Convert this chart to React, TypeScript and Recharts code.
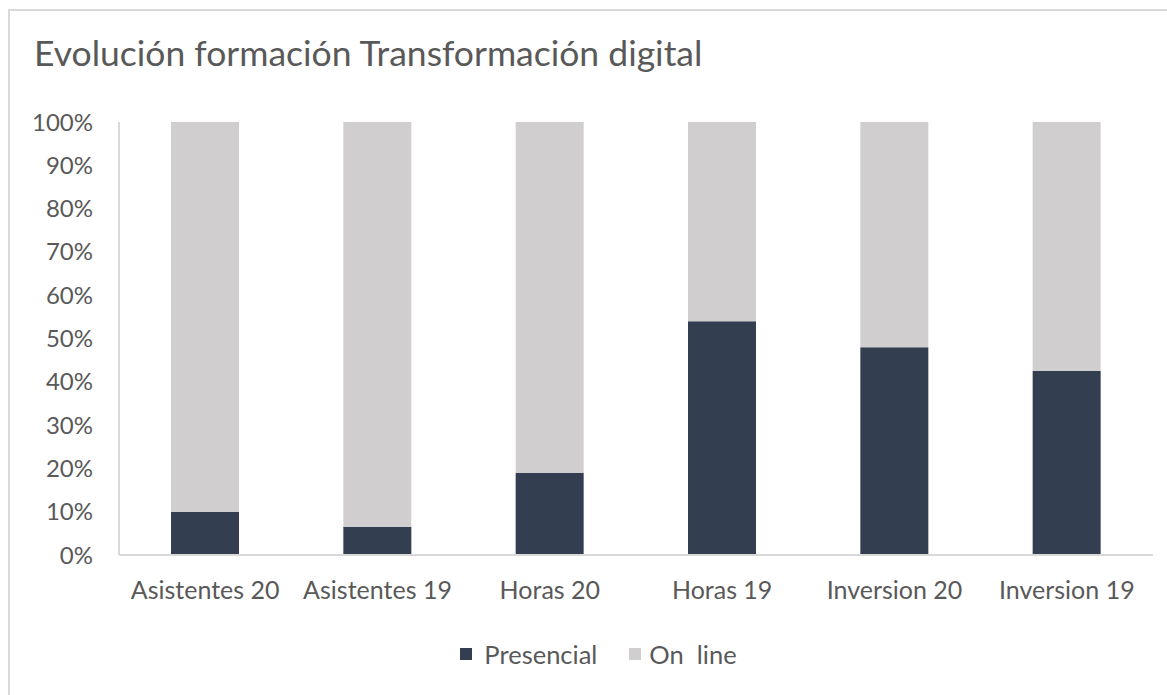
import React from "react";
import { BarChart, Bar, XAxis, YAxis, Legend } from "recharts";

const categories = ["Asistentes 20", "Asistentes 19", "Horas 20", "Horas 19", "Inversion 20", "Inversion 19"];
const presencial = [10, 6.5, 19, 54, 48, 42.5];
const online = [90, 93.5, 81, 46, 52, 57.5];
const yTicks = [0, 10, 20, 30, 40, 50, 60, 70, 80, 90, 100];

const data = categories.map((name, i) => ({ name, presencial: presencial[i], online: online[i] }));

const FONT = "Lato, 'Open Sans', sans-serif";
const TEXT = "#595959";
const DARK = "#333f50";
const LIGHT = "#d0cece";

const LegendContent = () => (
  <div style={{ display: "flex", justifyContent: "center", alignItems: "center", fontFamily: FONT, fontSize: 25.5, color: TEXT, paddingLeft: 30 }}>
    <span style={{ display: "inline-block", width: 12, height: 12, background: DARK, marginRight: 12 }} />
    <span style={{ marginRight: 32 }}>Presencial</span>
    <span style={{ display: "inline-block", width: 12, height: 12, background: LIGHT, marginRight: 8 }} />
    <span style={{ whiteSpace: "pre" }}>On  line</span>
  </div>
);

export default function App() {
  return (
    <div style={{ position: "absolute", left: 0, top: 0, width: 1167, height: 695, overflow: "hidden", background: "#fff" }}>
      <div style={{ position: "absolute", left: 8, top: 9, width: 1300, height: 800, border: "2px solid #d9d9d9", boxSizing: "border-box" }} />
      <div style={{ position: "absolute", left: 34, top: 31, fontFamily: FONT, fontSize: 35.5, color: TEXT, whiteSpace: "nowrap" }}>
        Evolución formación Transformación digital
      </div>
      <div style={{ position: "absolute", left: 0, top: 0 }}>
        <BarChart width={1167} height={695} data={data} margin={{ top: 122, right: 14, bottom: 0, left: 0 }}>
          <YAxis
            width={119}
            domain={[0, 100]}
            ticks={yTicks}
            interval={0}
            tickFormatter={(v: number) => `${v}%`}
            tick={{ fill: TEXT, fontSize: 24, fontFamily: FONT }}
            tickLine={false}
            tickSize={0}
            tickMargin={26}
            axisLine={{ stroke: "#d9d9d9", strokeWidth: 2 }}
          />
          <XAxis
            dataKey="name"
            height={140}
            interval={0}
            tick={{ fill: TEXT, fontSize: 25, fontFamily: FONT }}
            tickLine={false}
            tickSize={0}
            tickMargin={26}
            axisLine={{ stroke: "#d9d9d9", strokeWidth: 2 }}
          />
          <Bar dataKey="presencial" name="Presencial" stackId="a" fill={DARK} barSize={68} isAnimationActive={false} />
          <Bar dataKey="online" name="On line" stackId="a" fill={LIGHT} barSize={68} isAnimationActive={false} />
          <Legend content={<LegendContent />} wrapperStyle={{ top: 639, left: 0, width: 1167, height: 0 }} />
        </BarChart>
      </div>
    </div>
  );
}
